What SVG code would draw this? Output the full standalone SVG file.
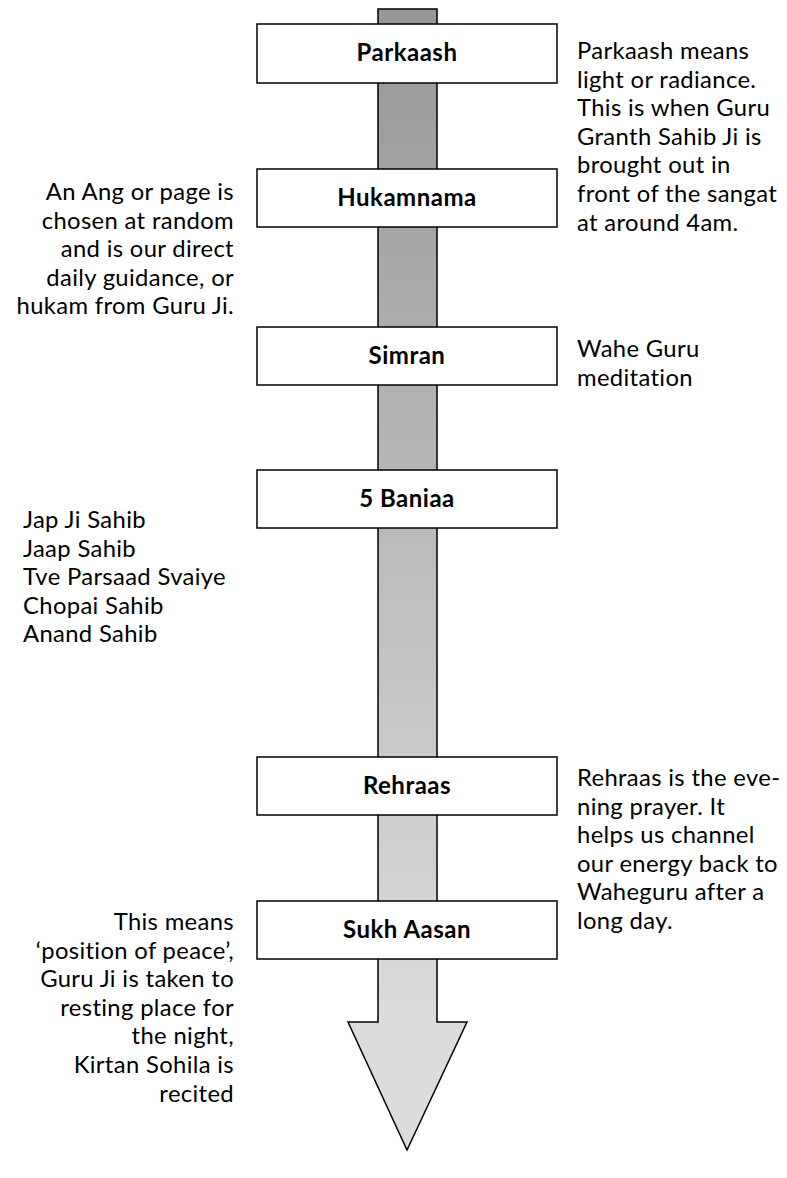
<svg xmlns="http://www.w3.org/2000/svg" width="787" height="1178" viewBox="0 0 787 1178">
<style>
.box{fill:#fff;stroke:#000;stroke-width:1.5}
.lbl{font-family:Lato,"Liberation Sans",sans-serif;font-weight:bold;font-size:24px;letter-spacing:0.5px;fill:#000;text-anchor:middle}
.t{font-family:Lato,"Liberation Sans",sans-serif;font-size:23.8px;letter-spacing:0.35px;fill:#000}
.r{text-anchor:end}
</style>
<defs>
<linearGradient id="g" gradientUnits="userSpaceOnUse" x1="0" y1="9" x2="0" y2="1022">
<stop offset="0" stop-color="#979797"/>
<stop offset="1" stop-color="#dcdcdc"/>
</linearGradient>
</defs>
<g id="connectors">
<path d="M378 9 H437 V1022 H467 L407 1150 L348 1022 H378 Z" fill="url(#g)" stroke="#000" stroke-width="1.5" stroke-linejoin="miter"/>
</g>
<g id="parkaash"><rect class="box" x="257" y="24" width="300" height="59"/><text class="lbl" x="407" y="61">Parkaash</text></g>
<g id="hukamnama"><rect class="box" x="257" y="169" width="300" height="58"/><text class="lbl" x="407" y="206">Hukamnama</text></g>
<g id="simran"><rect class="box" x="257" y="327" width="300" height="58"/><text class="lbl" x="407" y="364">Simran</text></g>
<g id="baniaa"><rect class="box" x="257" y="470" width="300" height="58"/><text class="lbl" x="407" y="507">5 Baniaa</text></g>
<g id="rehraas"><rect class="box" x="257" y="757" width="300" height="58"/><text class="lbl" x="407" y="794">Rehraas</text></g>
<g id="sukhaasan"><rect class="box" x="257" y="901" width="300" height="58"/><text class="lbl" x="407" y="938">Sukh Aasan</text></g>
<g id="notes">
<text class="t" x="577" y="59">Parkaash means</text>
<text class="t" x="577" y="87.6">light or radiance.</text>
<text class="t" x="577" y="116.2">This is when Guru</text>
<text class="t" x="577" y="144.8">Granth Sahib Ji is</text>
<text class="t" x="577" y="173.4">brought out in</text>
<text class="t" x="577" y="202">front of the sangat</text>
<text class="t" x="577" y="230.6">at around 4am.</text>
<text class="t r" x="234" y="200">An Ang or page is</text>
<text class="t r" x="234" y="228.6">chosen at random</text>
<text class="t r" x="234" y="257.2">and is our direct</text>
<text class="t r" x="234" y="285.8">daily guidance, or</text>
<text class="t r" x="234" y="314.4">hukam from Guru Ji.</text>
<text class="t" x="577" y="357">Wahe Guru</text>
<text class="t" x="577" y="385.6">meditation</text>
<text class="t" x="23" y="528">Jap Ji Sahib</text>
<text class="t" x="23" y="556.6">Jaap Sahib</text>
<text class="t" x="23" y="585.2">Tve Parsaad Svaiye</text>
<text class="t" x="23" y="613.8">Chopai Sahib</text>
<text class="t" x="23" y="642.4">Anand Sahib</text>
<text class="t" x="577" y="786">Rehraas is the eve-</text>
<text class="t" x="577" y="814.6">ning prayer. It</text>
<text class="t" x="577" y="843.2">helps us channel</text>
<text class="t" x="577" y="871.8">our energy back to</text>
<text class="t" x="577" y="900.4">Waheguru after a</text>
<text class="t" x="577" y="929">long day.</text>
<text class="t r" x="234" y="930">This means</text>
<text class="t r" x="234" y="958.6">‘position of peace’,</text>
<text class="t r" x="234" y="987.2">Guru Ji is taken to</text>
<text class="t r" x="234" y="1015.8">resting place for</text>
<text class="t r" x="234" y="1044.4">the night,</text>
<text class="t r" x="234" y="1073">Kirtan Sohila is</text>
<text class="t r" x="234" y="1101.6">recited</text>
</g>
</svg>
